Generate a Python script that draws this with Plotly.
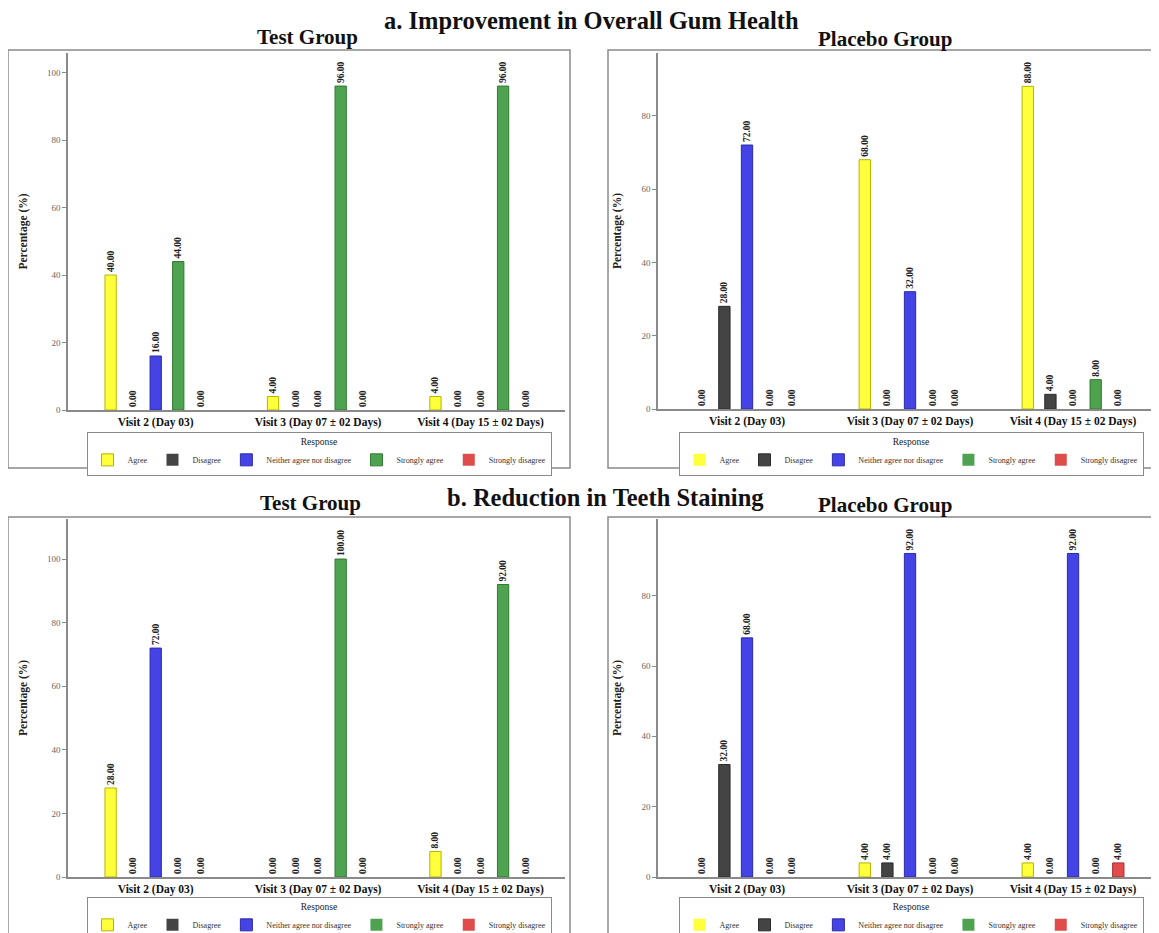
import plotly.graph_objects as go

# page has an 8px body margin -> figure origin sits at page (8, 8)
OFF = 8
W, H = 1159 - OFF, 933 - OFF

responses = ["Agree", "Disagree", "Neither agree nor disagree", "Strongly agree", "Strongly disagree"]
visits = ["Visit 2 (Day 03)", "Visit 3 (Day 07 ± 02 Days)", "Visit 4 (Day 15 ± 02 Days)"]

# a. Improvement in Overall Gum Health
gum_test_agree = [40, 4, 4]
gum_test_disagree = [0, 0, 0]
gum_test_neither = [16, 0, 0]
gum_test_sagree = [44, 96, 96]
gum_test_sdisagree = [0, 0, 0]

gum_placebo_agree = [0, 68, 88]
gum_placebo_disagree = [28, 0, 4]
gum_placebo_neither = [72, 32, 0]
gum_placebo_sagree = [0, 0, 8]
gum_placebo_sdisagree = [0, 0, 0]

# b. Reduction in Teeth Staining
stain_test_agree = [28, 0, 8]
stain_test_disagree = [0, 0, 0]
stain_test_neither = [72, 0, 0]
stain_test_sagree = [0, 100, 92]
stain_test_sdisagree = [0, 0, 0]

stain_placebo_agree = [0, 4, 4]
stain_placebo_disagree = [32, 4, 0]
stain_placebo_neither = [68, 92, 92]
stain_placebo_sagree = [0, 0, 0]
stain_placebo_sdisagree = [0, 0, 4]

fills = ["#FFFF3C", "#444444", "#4343E6", "#4FA24F", "#E04C4C"]
edges = ["#B5B500", "#2A2A2A", "#2A2AA8", "#2F7A2F", "#A83030"]

FONT = "Liberation Serif"

panels = [
    # (series, axis id, legend id, x-domain px, y-domain px, x range, y top, tick values)
    ([gum_test_agree, gum_test_disagree, gum_test_neither, gum_test_sagree, gum_test_sdisagree],
     "", "legend", (68, 565), (53, 410), [-0.54, 2.52], 105.8, [0, 20, 40, 60, 80, 100]),
    ([gum_placebo_agree, gum_placebo_disagree, gum_placebo_neither, gum_placebo_sagree, gum_placebo_sdisagree],
     "2", "legend2", (658, 1157), (53, 409), [-0.546, 2.515], 97.1, [0, 20, 40, 60, 80]),
    ([stain_test_agree, stain_test_disagree, stain_test_neither, stain_test_sagree, stain_test_sdisagree],
     "3", "legend3", (68, 565), (519, 877), [-0.54, 2.52], 112.6, [0, 20, 40, 60, 80, 100]),
    ([stain_placebo_agree, stain_placebo_disagree, stain_placebo_neither, stain_placebo_sagree, stain_placebo_sdisagree],
     "4", "legend4", (658, 1157), (519, 877), [-0.546, 2.515], 101.8, [0, 20, 40, 60, 80]),
]

def fx(px):
    return (px - OFF) / W

def fy(py):
    return 1 - (py - OFF) / H

def clamp(v):
    return max(0.0, min(1.0, v))

fig = go.Figure()
layout = dict(
    width=W, height=H,
    margin=dict(l=0, r=0, t=0, b=0, autoexpand=False),
    paper_bgcolor="white", plot_bgcolor="white",
    barmode="group", bargap=0.306, bargroupgap=0.5,
    font=dict(family=FONT, color="#222222"),
    showlegend=True,
)

legend_pos = {
    "legend": (319, 432),
    "legend2": (911, 432),
    "legend3": (319, 897),
    "legend4": (911, 897),
}

for series, ax, leg, (x0, x1), (y0, y1), xr, ytop, tvals in panels:
    xa = "x" + ax
    ya = "y" + ax
    for i, (name, vals) in enumerate(zip(responses, series)):
        fig.add_trace(go.Bar(
            x=visits, y=vals, name=name,
            xaxis=xa, yaxis=ya, legend=leg,
            marker=dict(color=fills[i],
                        line=dict(color=edges[i], width=[1 if v else 0 for v in vals])),
            texttemplate="%{y:.2f}", textposition="outside", textangle=-90,
            constraintext="none", cliponaxis=False,
            textfont=dict(family=FONT, size=9.5, color="#222222", weight="bold"),
        ))
    xkey = "xaxis" + ax
    ykey = "yaxis" + ax
    layout[xkey] = dict(
        domain=[clamp(fx(x0)), clamp(fx(x1))], anchor=ya, type="category",
        range=xr, showline=True, linecolor="#8a8a8a", linewidth=1.5,
        ticks="", showgrid=False, zeroline=False,
        tickfont=dict(family=FONT, size=11.5, color="#111111", weight="bold"),
    )
    layout[ykey] = dict(
        domain=[clamp(fy(y1)), clamp(fy(y0))], anchor=xa, range=[0, ytop],
        showline=True, linecolor="#8a8a8a", linewidth=1.5,
        ticks="outside", ticklen=4, tickcolor="#8a8a8a",
        tickmode="array", tickvals=tvals,
        showgrid=False, zeroline=False,
        tickfont=dict(family=FONT, size=9, color="#666666"),
        title=dict(text="Percentage (%)",
                   font=dict(family=FONT, size=11.5, color="#222222", weight="bold"), standoff=17),
    )
    lx, ly = legend_pos[leg]
    layout[leg] = dict(
        x=fx(lx), y=fy(ly), xanchor="center", yanchor="top",
        orientation="h", bordercolor="#8a8a8a", borderwidth=1, bgcolor="white",
        title=dict(text="Response", side="top center", font=dict(family=FONT, size=9.5, color="#222222")),
        font=dict(family=FONT, size=8, color="#333333"),
        itemwidth=30, tracegroupgap=0, traceorder="normal",
    )

# panel frames
frames = [(8, 50, 570, 468), (608, 50, 1157, 468), (8, 517, 570, 945), (608, 517, 1157, 945)]
shapes = []
for (a, b, c, d) in frames:
    shapes.append(dict(type="rect", xref="paper", yref="paper",
                       x0=fx(a), x1=fx(c), y0=fy(d), y1=fy(b),
                       line=dict(color="#8a8a8a", width=1.5), fillcolor="rgba(0,0,0,0)", layer="below"))
layout["shapes"] = shapes

annotations = [
    dict(text="<b>a. Improvement in Overall Gum Health</b>", x=fx(591), y=fy(21), font=dict(size=24.5)),
    dict(text="<b>Test Group</b>", x=fx(307), y=fy(37), font=dict(size=21)),
    dict(text="<b>Placebo Group</b>", x=fx(885), y=fy(39), font=dict(size=21)),
    dict(text="<b>b. Reduction in Teeth Staining</b>", x=fx(605), y=fy(497), font=dict(size=24.5)),
    dict(text="<b>Test Group</b>", x=fx(310), y=fy(503), font=dict(size=21)),
    dict(text="<b>Placebo Group</b>", x=fx(885), y=fy(505), font=dict(size=21)),
]
for a in annotations:
    a.update(xref="paper", yref="paper", showarrow=False, xanchor="center", yanchor="middle")
    a["font"].update(family=FONT, color="#111111")
layout["annotations"] = annotations

fig.update_layout(**layout)
fig.write_html("out.html")
